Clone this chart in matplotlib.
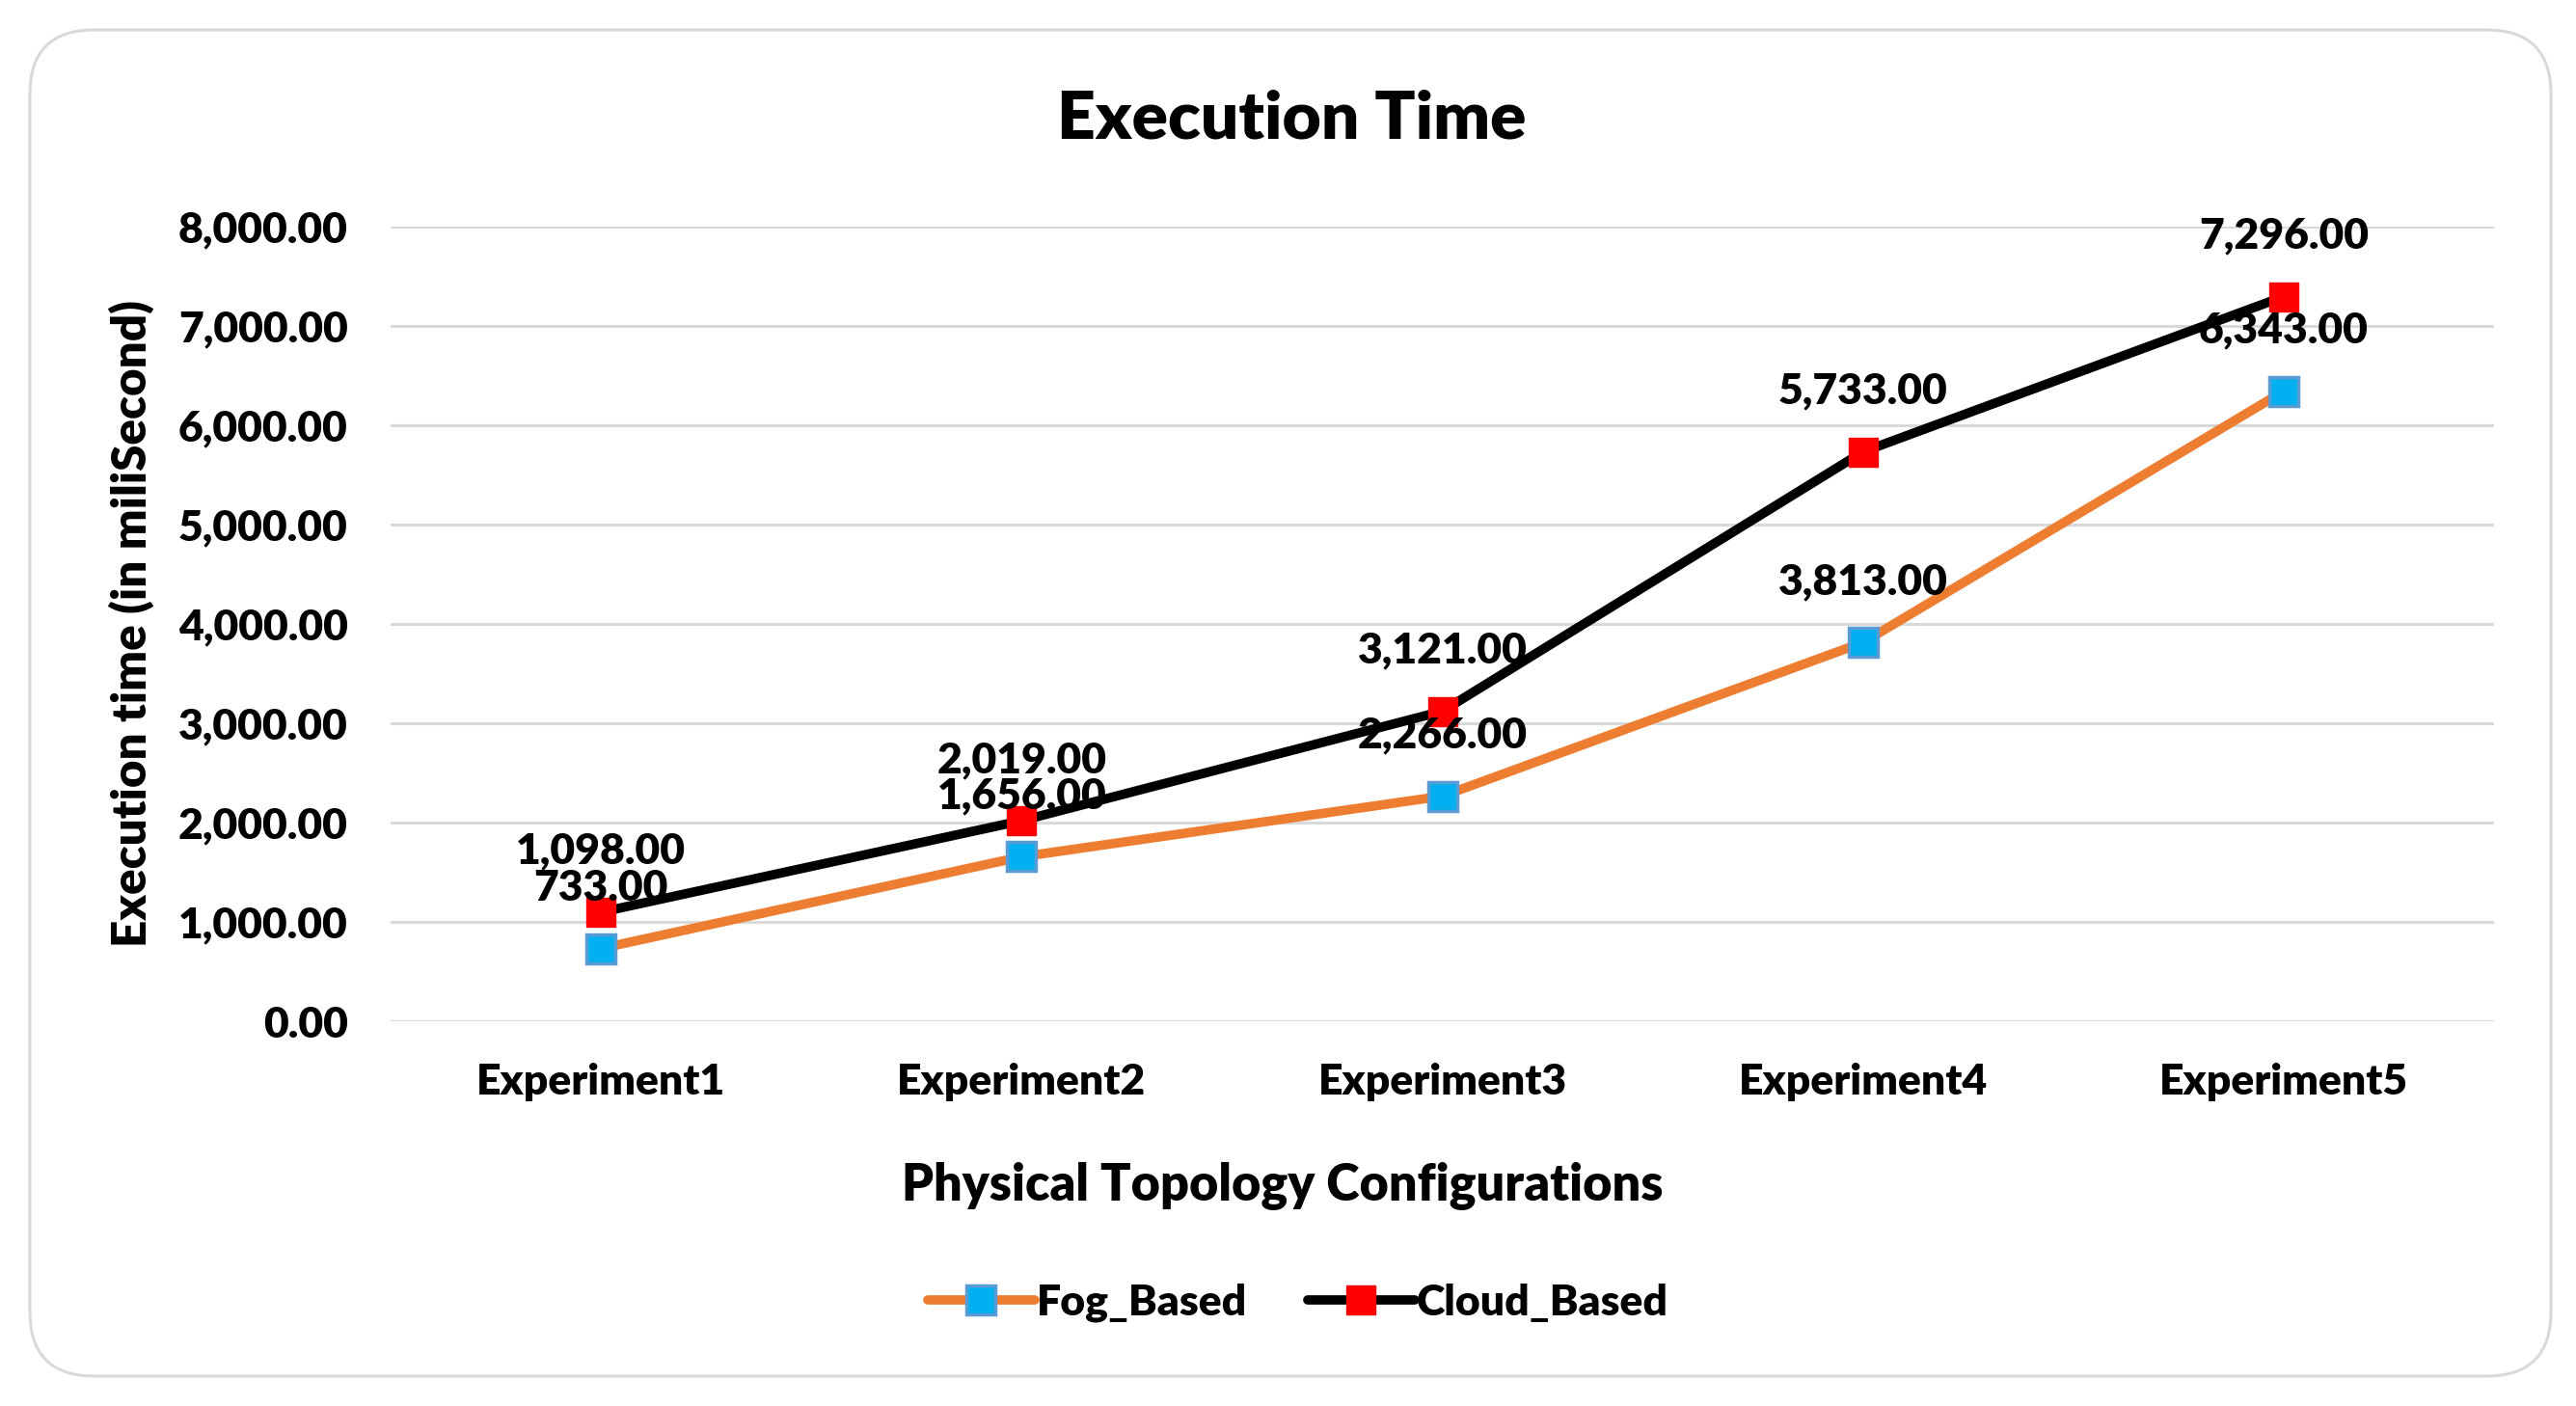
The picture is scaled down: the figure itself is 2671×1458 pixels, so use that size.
import matplotlib
matplotlib.use("Agg")
import matplotlib.pyplot as plt
from matplotlib.patches import FancyBboxPatch
from matplotlib.ticker import FuncFormatter

categories = ["Experiment1", "Experiment2", "Experiment3", "Experiment4", "Experiment5"]
fog_based = [733, 1656, 2266, 3813, 6343]
cloud_based = [1098, 2019, 3121, 5733, 7296]
y_ticks = [0, 1000, 2000, 3000, 4000, 5000, 6000, 7000, 8000]

plt.rcParams['font.family'] = ['Lato', 'DejaVu Sans']
WEIGHT = 'heavy'
plt.rcParams['font.weight'] = WEIGHT

W, H = 2671, 1458
fig = plt.figure(figsize=(W / 100, H / 100), dpi=100)
fig.patch.set_facecolor('white')

# outer rounded frame
frame = FancyBboxPatch((31 / W, 31 / H), (2645 - 31) / W, (1427 - 31) / H,
                       boxstyle="round,pad=0,rounding_size=0.025",
                       transform=fig.transFigure, facecolor='none',
                       edgecolor='#D9D9D9', linewidth=2.2, zorder=-5,
                       mutation_aspect=W / H)
fig.patches.append(frame)

left, right = 405 / W, 2586 / W
bottom, top = 1 - 1059 / H, 1 - 235 / H
ax = fig.add_axes([left, bottom, right - left, top - bottom])
ax.set_facecolor('none')

x = list(range(len(categories)))
fmt = lambda v: f"{v:,.2f}"

ax.plot(x, fog_based, color='#ED7D31', linewidth=7, marker='s', markersize=21,
        markerfacecolor='#00B0F0', markeredgecolor='#5B9BD5', markeredgewidth=2.5,
        label='Fog_Based', zorder=3, solid_capstyle='round')
ax.plot(x, cloud_based, color='black', linewidth=7, marker='s', markersize=21,
        markerfacecolor='#FF0000', markeredgecolor='#FF0000', markeredgewidth=1,
        label='Cloud_Based', zorder=4, solid_capstyle='round')

for xi, v in zip(x, fog_based):
    ax.annotate(fmt(v), (xi, v), xytext=(0, 63), textcoords='offset pixels',
                ha='center', va='center', fontsize=32, fontweight=WEIGHT, zorder=5)
for xi, v in zip(x, cloud_based):
    ax.annotate(fmt(v), (xi, v), xytext=(0, 63), textcoords='offset pixels',
                ha='center', va='center', fontsize=32, fontweight=WEIGHT, zorder=5)

ax.set_xlim(-0.5, len(categories) - 0.5)
ax.set_ylim(0, 8000)
ax.set_yticks(y_ticks)
ax.yaxis.set_major_formatter(FuncFormatter(lambda v, p: fmt(v)))
ax.set_xticks(x)
ax.set_xticklabels(categories)
ax.tick_params(axis='both', length=0, labelsize=32)
ax.tick_params(axis='y', pad=32)
ax.tick_params(axis='x', pad=31)
for lbl in ax.get_xticklabels() + ax.get_yticklabels():
    lbl.set_fontweight(WEIGHT)
ax.grid(axis='y', color='#D9D9D9', linewidth=2.2, zorder=0)
ax.set_axisbelow(True)
for s in ax.spines.values():
    s.set_visible(False)

fig.text(1339 / W, 1 - 124 / H, "Execution Time", ha='center', va='center',
         fontsize=50, fontweight=WEIGHT)
fig.text(136 / W, 1 - 647 / H, "Execution time (in miliSecond)", ha='center', va='center',
         rotation=90, fontsize=35.5, fontweight=WEIGHT)
fig.text(1330 / W, 1 - 1230 / H, "Physical Topology Configurations", ha='center', va='center',
         fontsize=37.5, fontweight=WEIGHT)

leg = fig.legend(loc='center', bbox_to_anchor=(1346 / W, 1 - 1351 / H), ncol=2,
                 frameon=False, handlelength=2.5, columnspacing=1.4,
                 handletextpad=0.05, prop={'weight': WEIGHT, 'size': 32})

fig.savefig("out.png", dpi=100, facecolor='white')
